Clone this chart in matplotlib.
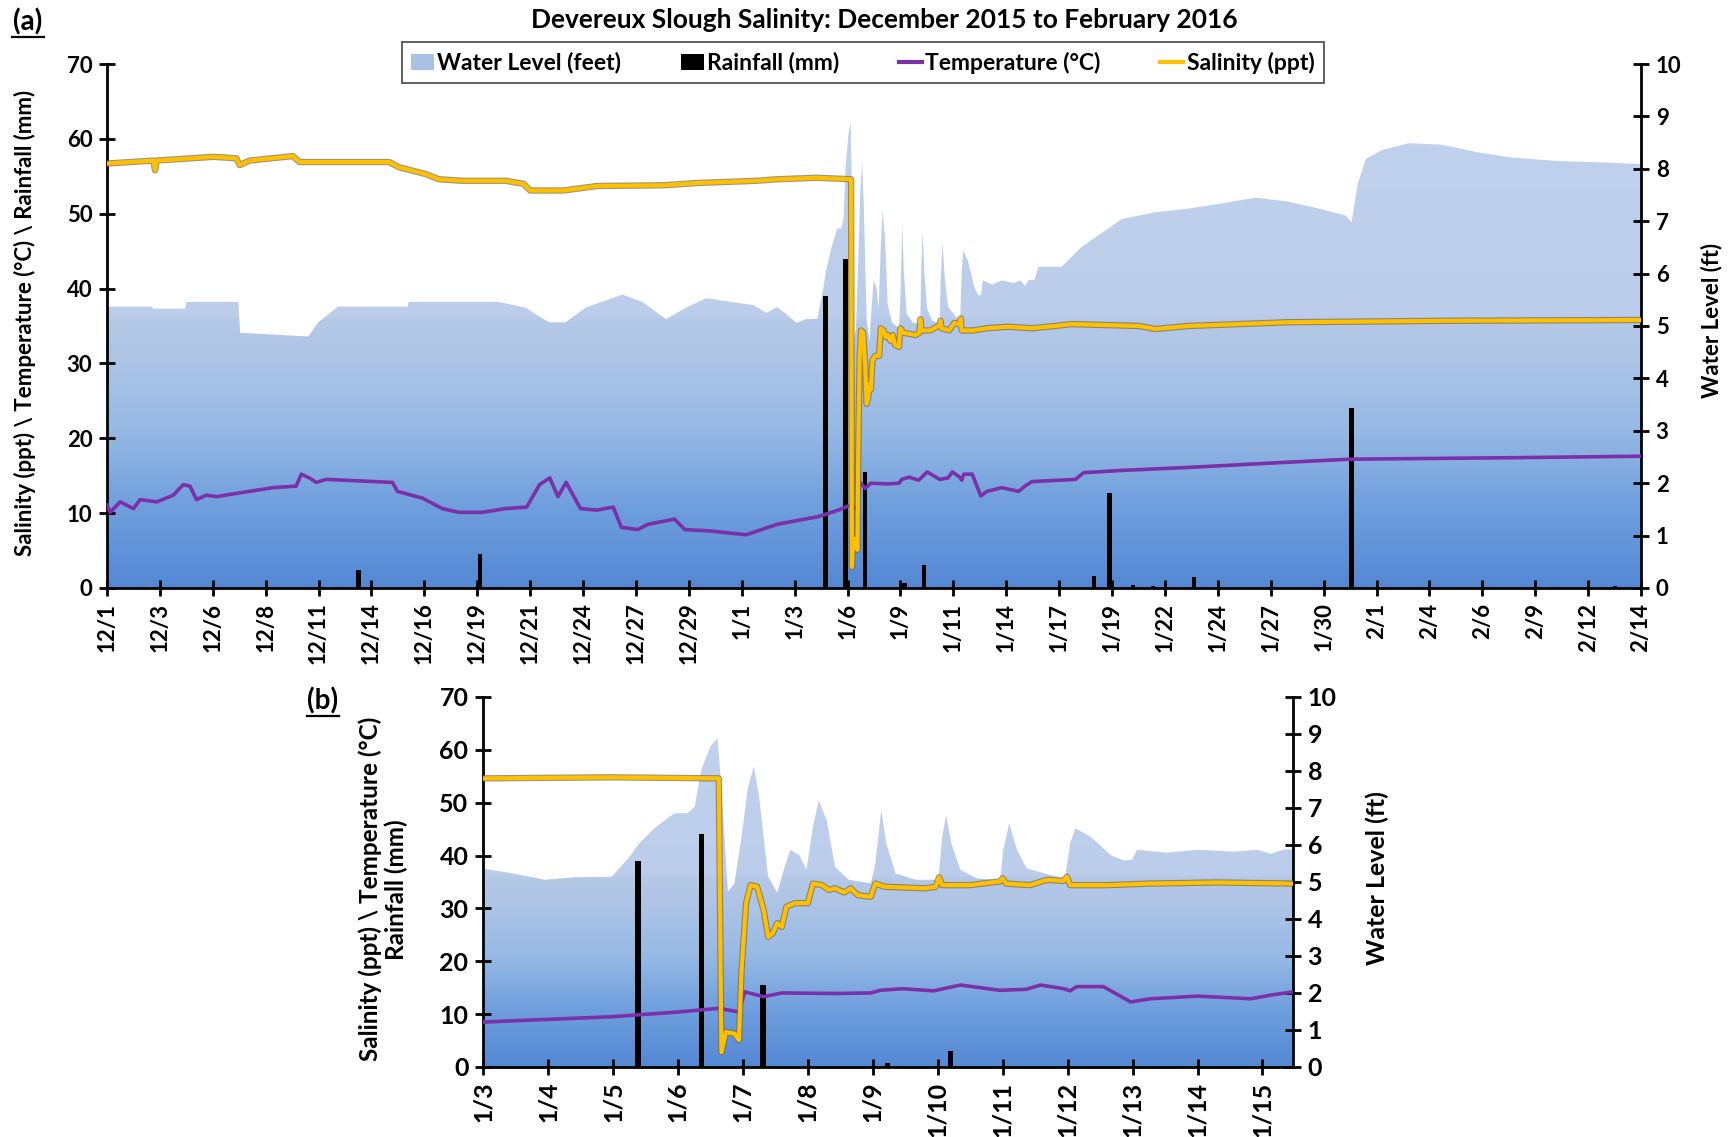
import numpy as np
import matplotlib
matplotlib.use("Agg")
import matplotlib.pyplot as plt
import matplotlib.patheffects as pe
from matplotlib.patches import Patch
from matplotlib.lines import Line2D

plt.rcParams['font.family'] = ['Lato', 'DejaVu Sans']
plt.rcParams['font.weight'] = 'bold'

# x values are days since 12/1/2015 (1/1 = 31, 2/1 = 62)
water_x = [0.25, 2.46, 2.50, 4.08, 4.12, 6.68, 6.76, 10.09, 10.58, 11.55, 14.96, 15.00, 18.70,
           19.40, 20.71, 21.86, 22.67, 23.65, 25.45, 26.43, 27.58, 28.56, 29.54, 31.83, 32.50,
           33.00, 33.47, 33.95, 34.43, 34.98, 35.26, 35.40, 35.67, 35.95, 36.15, 36.26, 36.36,
           36.50, 36.61, 36.67, 36.77, 36.87, 36.98, 37.08, 37.17, 37.25, 37.39, 37.53, 37.63,
           37.73, 37.87, 37.98, 38.08, 38.17, 38.29, 38.42, 38.63, 38.97, 39.04, 39.13, 39.21,
           39.35, 39.66, 40.01, 40.07, 40.13, 40.21, 40.35, 40.60, 40.96, 41.01, 41.10, 41.22,
           41.37, 41.73, 41.96, 42.04, 42.12, 42.35, 42.66, 42.86, 42.99, 43.07, 43.53, 44.00,
           44.56, 44.92, 45.13, 45.33, 45.60, 45.78, 46.92, 47.90, 49.86, 51.50, 53.10, 54.78,
           56.40, 57.90, 59.40, 60.80, 61.10, 61.40, 61.80, 62.60, 63.90, 65.50, 67.20, 68.80,
           71.10, 73.50, 75.25]
water_ft = [5.37, 5.37, 5.33, 5.33, 5.46, 5.46, 4.87, 4.80, 5.07, 5.37, 5.37, 5.46, 5.46,
            5.46, 5.35, 5.07, 5.07, 5.35, 5.60, 5.46, 5.13, 5.35, 5.53, 5.40, 5.25,
            5.36, 5.23, 5.06, 5.13, 5.14, 5.69, 6.04, 6.50, 6.86, 6.86, 7.04, 8.03,
            8.66, 8.89, 7.57, 4.74, 4.96, 6.23, 7.57, 8.13, 7.31, 5.14, 4.71, 5.33,
            5.87, 5.73, 5.33, 6.50, 7.21, 6.67, 5.41, 5.06, 4.96, 5.50, 6.94, 6.04,
            5.23, 5.06, 5.06, 6.23, 6.81, 6.04, 5.33, 5.10, 5.05, 5.87, 6.59, 5.87,
            5.37, 5.19, 5.10, 6.05, 6.45, 6.23, 5.73, 5.58, 5.60, 5.87, 5.79, 5.87,
            5.82, 5.87, 5.76, 5.88, 5.88, 6.13, 6.13, 6.51, 7.04, 7.17, 7.24, 7.34,
            7.45, 7.38, 7.25, 7.11, 6.98, 7.72, 8.19, 8.36, 8.49, 8.46, 8.32, 8.22,
            8.15, 8.12, 8.09]

sal_x = [0.25, 2.52, 2.60, 2.68, 5.45, 6.58, 6.74, 7.23, 9.34, 9.67, 10.64, 14.05, 14.54,
         15.83, 16.48, 17.62, 19.73, 20.61, 20.94, 22.57, 24.21, 27.48, 29.10, 32.00, 33.00,
         34.98, 36.63, 36.67, 36.74, 36.87, 36.94, 36.98, 37.05, 37.12, 37.22, 37.32, 37.39,
         37.46, 37.53, 37.60, 37.67, 37.80, 38.00, 38.08, 38.22, 38.32, 38.42, 38.56, 38.66,
         38.77, 38.97, 39.04, 39.18, 39.80, 39.97, 40.02, 40.07, 40.49, 40.96, 41.00, 41.05,
         41.42, 41.68, 41.94, 41.99, 42.04, 42.60, 43.27, 44.30, 45.47, 46.60, 47.40, 50.70,
         51.50, 53.10, 58.00, 66.00, 75.25]
salinity = [56.7, 57.1, 55.8, 57.1, 57.6, 57.4, 56.5, 57.1, 57.7, 56.9, 56.9, 56.9, 56.2,
            55.3, 54.6, 54.4, 54.4, 54.0, 53.1, 53.1, 53.7, 53.8, 54.1, 54.4, 54.6,
            54.8, 54.6, 2.8, 6.6, 6.3, 5.1, 18.3, 31.0, 34.4, 34.1, 29.7, 24.6,
            25.3, 27.2, 26.5, 30.3, 31.0, 31.0, 34.7, 34.4, 33.5, 33.8, 33.0, 33.8,
            32.5, 32.2, 34.7, 34.1, 33.8, 34.1, 35.9, 34.4, 34.4, 35.1, 35.7, 34.7,
            34.4, 35.4, 35.2, 36.0, 34.4, 34.4, 34.7, 34.9, 34.7, 35.0, 35.25, 35.0,
            34.6, 35.0, 35.5, 35.7, 35.8]

temp_x = [0.25, 0.41, 0.90, 1.55, 1.87, 2.69, 3.50, 3.98, 4.31, 4.63, 5.12, 5.61, 6.74,
          8.37, 9.50, 9.75, 10.15, 10.48, 10.96, 14.21, 14.45, 15.67, 16.65, 17.46, 18.60,
          19.73, 20.77, 21.40, 21.90, 22.30, 22.70, 23.40, 24.20, 25.00, 25.40, 26.20, 26.70,
          28.00, 28.50, 29.80, 31.50, 32.80, 33.00, 34.98, 36.01, 36.63, 36.94, 37.03, 37.32,
          37.60, 38.42, 38.97, 39.11, 39.46, 39.94, 40.35, 40.96, 41.37, 41.58, 41.94, 42.04,
          42.14, 42.55, 42.97, 43.27, 44.00, 44.82, 45.13, 45.47, 46.10, 47.60, 48.00, 49.86,
          53.10, 58.00, 61.00, 68.90, 75.25]
temperature = [11.1, 10.1, 11.5, 10.6, 11.8, 11.5, 12.4, 13.8, 13.6, 11.8, 12.4, 12.2, 12.7,
               13.4, 13.6, 15.2, 14.7, 14.1, 14.5, 14.1, 12.9, 12.0, 10.6, 10.1, 10.1,
               10.6, 10.8, 13.8, 14.7, 12.2, 14.1, 10.6, 10.4, 10.8, 8.1, 7.8, 8.5,
               9.2, 7.8, 7.6, 7.1, 8.3, 8.5, 9.5, 10.4, 11.1, 10.4, 14.2, 13.3,
               14.0, 13.9, 14.0, 14.5, 14.8, 14.4, 15.5, 14.5, 14.7, 15.5, 14.8, 14.4,
               15.2, 15.2, 12.3, 12.9, 13.4, 12.9, 13.6, 14.2, 14.3, 14.5, 15.4, 15.7,
               16.1, 16.8, 17.2, 17.4, 17.6]

rain_x = [12.54, 18.48, 35.39, 36.36, 37.31, 39.23, 40.20, 48.50, 49.26, 50.40, 51.40, 53.40, 61.10, 73.98]
rain_mm = [2.4, 4.5, 39.0, 44.0, 15.5, 0.7, 3.0, 1.6, 12.7, 0.4, 0.25, 1.5, 24.0, 0.3]

ticks_a = ['12/1', '12/3', '12/6', '12/8', '12/11', '12/14', '12/16', '12/19', '12/21', '12/24',
           '12/27', '12/29', '1/1', '1/3', '1/6', '1/9', '1/11', '1/14', '1/17', '1/19',
           '1/22', '1/24', '1/27', '1/30', '2/1', '2/4', '2/6', '2/9', '2/12', '2/14']
ticks_b = ['1/3', '1/4', '1/5', '1/6', '1/7', '1/8', '1/9', '1/10', '1/11', '1/12', '1/13', '1/14', '1/15']

SAL_COL = '#FFC000'
TEMP_COL = '#7B2FA8'

# gradient for the water level area (ft -> rgb)
stops = [0, 1.5, 3.0, 4.5, 5.1, 5.2, 10]
reds = [84, 110, 150, 176, 180, 188, 194]
greens = [136, 158, 185, 197, 200, 205, 211]
blues = [212, 221, 228, 230, 231, 235, 238]


def water_area(ax2, xlim):
    poly = ax2.fill_between(water_x, 0, water_ft, facecolor='none', edgecolor='none')
    lev = np.linspace(0, 10, 400)
    img = np.dstack([np.interp(lev, stops, reds), np.interp(lev, stops, greens),
                     np.interp(lev, stops, blues)]) / 255.0
    img = img.reshape(400, 1, 3)
    im = ax2.imshow(img, extent=[xlim[0], xlim[1], 0, 10], origin='lower',
                    aspect='auto', zorder=1, interpolation='bilinear')
    im.set_clip_path(poly.get_paths()[0], poly.get_transform())


def panel(ax, xlim, bar_w, fs, lw_s, lw_t):
    ax2 = ax.twinx()
    water_area(ax2, xlim)
    ax2.set_ylim(0, 10)
    ax2.set_xlim(*xlim)
    ax.set_zorder(ax2.get_zorder() + 1)
    ax.patch.set_visible(False)

    ax.bar(rain_x, rain_mm, width=bar_w, color='black', zorder=3)
    ax.plot(temp_x, temperature, color=TEMP_COL, lw=lw_t, zorder=4)
    ax.plot(sal_x, salinity, color=SAL_COL, lw=lw_s, zorder=5,
            path_effects=[pe.Stroke(linewidth=lw_s + 1.6, foreground='#7a6a40', alpha=0.7), pe.Normal()])
    ax.set_xlim(*xlim)
    ax.set_ylim(0, 70)
    ax.set_yticks(range(0, 71, 10))
    ax2.set_yticks(range(0, 11))

    for a in (ax, ax2):
        for s in a.spines.values():
            s.set_linewidth(2)
        a.spines['top'].set_visible(False)
        a.tick_params(direction='inout', length=11, width=2, labelsize=fs, pad=5)
    ax.spines['right'].set_visible(False)
    ax2.spines['left'].set_visible(False)
    ax2.spines['bottom'].set_visible(False)
    for lab in ax.get_yticklabels() + ax2.get_yticklabels():
        lab.set_fontweight('bold')
    return ax2


fig = plt.figure(figsize=(17.3, 11.37), dpi=100)

# panel (a)
xa = (0.25, 75.25)
ax_a = fig.add_axes([0.0618, 0.4829, 0.8868, 0.4608])
ax_a2 = panel(ax_a, xa, 0.22, 16, 3, 2.6)
ax_a.set_xticks(np.linspace(xa[0], xa[1], len(ticks_a)))
ax_a.set_xticklabels(ticks_a, rotation=90, fontsize=16, fontweight='bold')
ax_a.set_ylabel('Salinity (ppt) \\ Temperature (°C) \\ Rainfall (mm)', fontsize=16, fontweight='bold')
ax_a.yaxis.set_label_coords(-0.046, 0.505)
ax_a2.set_ylabel('Water Level (ft)', fontsize=16, fontweight='bold')
ax_a2.yaxis.set_label_coords(1.039, 0.51)

handles = [Patch(facecolor='#a9c1e5', edgecolor='none'), Patch(facecolor='black'),
           Line2D([], [], color=TEMP_COL, lw=3), Line2D([], [], color=SAL_COL, lw=3)]
labels = ['Water Level (feet)', 'Rainfall (mm)', 'Temperature (°C)', 'Salinity (ppt)']
leg = fig.legend(handles, labels, loc='center', bbox_to_anchor=(0.4986, 0.945), ncol=4,
                 fancybox=False, edgecolor='#444444', framealpha=1,
                 handlelength=1.0, handletextpad=0.15, columnspacing=2.6,
                 borderpad=0.4, prop={'weight': 'bold', 'size': 16.5})
leg.get_frame().set_linewidth(1.2)

fig.text(0.511, 0.982, 'Devereux Slough Salinity: December 2015 to February 2016',
         ha='center', va='center', fontsize=19, fontweight='bold')

# panel (b)
xb = (33.0, 45.47)
ax_b = fig.add_axes([0.2792, 0.0616, 0.4682, 0.3254])
ax_b2 = panel(ax_b, xb, 0.085, 18, 3, 2.6)
ax_b.set_xticks(range(33, 46))
ax_b.set_xticklabels(ticks_b, rotation=90, fontsize=18, fontweight='bold')
ax_b.set_ylabel('Salinity (ppt) \\ Temperature (°C)\nRainfall (mm)', fontsize=17.5,
                fontweight='bold', linespacing=1.15)
ax_b.yaxis.set_label_coords(-0.092, 0.48)
ax_b2.set_ylabel('Water Level (ft)', fontsize=18, fontweight='bold')
ax_b2.yaxis.set_label_coords(1.09, 0.51)

# panel tags, underlined
for tx, ty, t, w in [(0.0162, 0.981, '(a)', 0.019), (0.1867, 0.384, '(b)', 0.019)]:
    fig.text(tx, ty, t, ha='center', va='center', fontsize=20, fontweight='bold')
    fig.add_artist(Line2D([tx - w / 2, tx + w / 2], [ty - 0.0135, ty - 0.0135], color='black', lw=1.6))

fig.savefig('out.png', dpi=100)
